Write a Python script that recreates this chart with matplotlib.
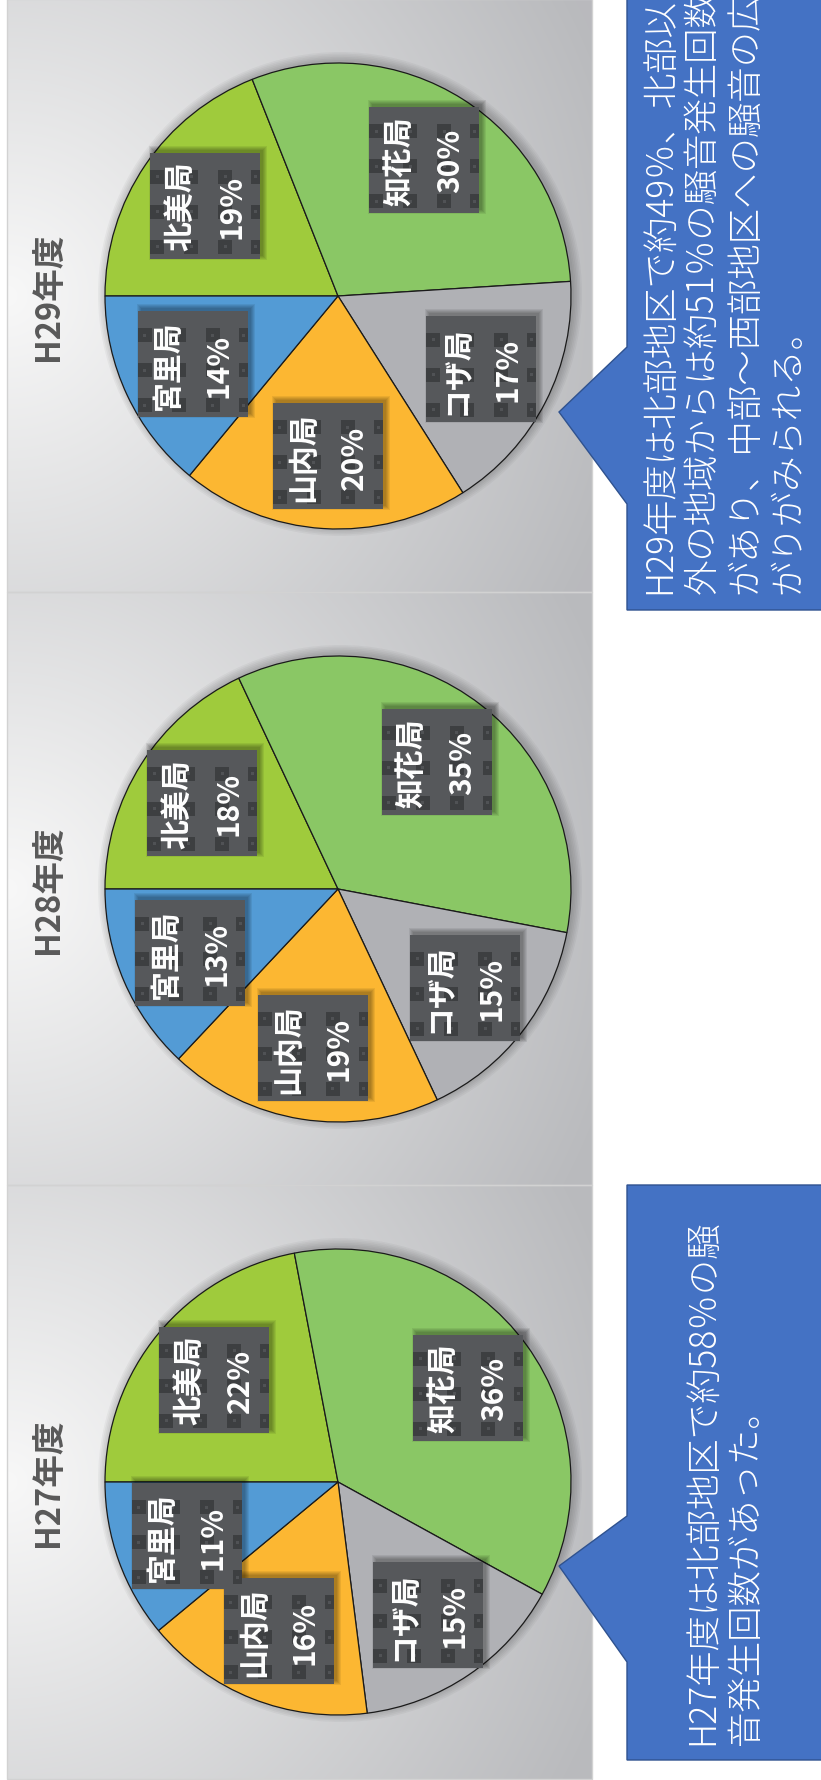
import numpy as np
import matplotlib
matplotlib.use("Agg")
import matplotlib.pyplot as plt
from matplotlib.patches import Rectangle, Polygon, Circle

plt.rcParams['font.family'] = ['Noto Sans CJK JP', 'DejaVu Sans']

# ---- data -------------------------------------------------------------
stations = ['北美局', '知花局', 'コザ局', '山内局', '宮里局']
years = ['H29年度', 'H28年度', 'H27年度']
shares_h29 = [19, 30, 17, 20, 14]
shares_h28 = [18, 35, 15, 19, 13]
shares_h27 = [22, 36, 15, 16, 11]
slice_colors = ['#9FCB3C', '#8AC765', '#B0B1B5', '#FCB732', '#539BD5']

note_h29 = ['H29年度は北部地区で約49％、北部以',
            '外の地域からは約51％の騒音発生回数',
            'があり、中部～西部地区への騒音の広',
            'がりがみられる。']
note_h27 = ['H27年度は北部地区で約58％の騒',
            '音発生回数があった。']

# ---- page layout (pixels, measured from the top of the page) ----------
W, H = 821, 1781
fig = plt.figure(figsize=(W / 100, H / 100), dpi=100)
ax = fig.add_axes([0, 0, 1, 1])


def Y(y):
    """page y (downwards) -> data y (upwards)"""
    return H - y


panels = [(0, 593), (593, 1186), (1186, 1780)]
pie_cy = [297, 890, 1483]
pie_cx, pie_r = 338, 233
panel_x0, panel_x1 = 7, 592


def panel_background(top, bot, cy):
    xs = np.arange(panel_x0, panel_x1) + 0.5
    ys = np.arange(top, bot) + 0.5
    X, Yg = np.meshgrid(xs, ys)
    d = np.clip(np.hypot(X - panel_x0, Yg - cy) / 640.0, 0, 1)
    light = np.array([248, 248, 248]) / 255
    dark = np.array([185, 186, 189]) / 255
    img = light + (dark - light) * d[..., None]
    ax.imshow(img, extent=(panel_x0, panel_x1, Y(bot), Y(top)),
              origin='upper', interpolation='bilinear', zorder=0)
    ax.add_patch(Rectangle((panel_x0, Y(bot)), panel_x1 - panel_x0, bot - top,
                           fill=False, edgecolor='#D2D2D2', lw=1.0, zorder=1))


def pie_shadow(cx, cy):
    for k in range(6):
        ax.add_patch(Circle((cx + 2, Y(cy) + 2), pie_r + 1 + 1.6 * k,
                            facecolor='black', edgecolor='none',
                            alpha=0.035, zorder=1.5))


def data_label(cx, cy, name, pct):
    bw, bh = 110, 106
    left, bottom = cx - bw / 2, cy - bh / 2
    # soft shadow towards the upper right
    for e in range(5):
        ax.add_patch(Rectangle((left + 3 - e, bottom + 3 - e), bw + 2 * e, bh + 2 * e,
                               facecolor='black', edgecolor='none',
                               alpha=0.07, zorder=5))
    ax.add_patch(Rectangle((left, bottom), bw, bh, facecolor='#56585B',
                           edgecolor='none', zorder=6))
    # texture of darker squares
    top_y = bottom + bh
    for ox in (0, 34, 68, 101):
        for oy in (-18, 17, 52, 87):
            sw = min(14, bw - ox)
            sy_top = max(oy, 0)
            sh = min(oy + 14, bh) - sy_top
            if sh <= 0:
                continue
            sx, sy = left + ox, top_y - sy_top - sh
            tone = '#4A4C4F' if oy < 0 else '#3D3F41'
            ax.add_patch(Rectangle((sx, sy), sw, sh, facecolor=tone,
                                   edgecolor='none', zorder=6.5))
            if oy >= 0 and sw >= 8:
                ax.add_patch(Rectangle((sx + sw / 2 - 1.5, sy + sh / 2 - 1.5), 3, 3,
                                       facecolor='#505255', edgecolor='none',
                                       zorder=6.6))
    ax.text(cx - 25, cy, name, rotation=90, ha='center', va='center',
            fontsize=21.5, fontweight='bold', color='white', zorder=7)
    ax.text(cx + 26, cy, pct, rotation=90, ha='center', va='center',
            fontsize=21.5, fontweight='bold', color='white', zorder=7)


all_shares = [shares_h29, shares_h28, shares_h27]

for (top, bot), cy, year, shares in zip(panels, pie_cy, years, all_shares):
    panel_background(top, bot, cy)
    pie_shadow(pie_cx, cy)
    wedges, _ = ax.pie(shares, colors=slice_colors, startangle=180,
                       counterclock=False, center=(pie_cx, Y(cy)), radius=pie_r,
                       wedgeprops=dict(edgecolor='#1A1A1A', linewidth=0.9),
                       frame=True)
    for w in wedges:
        w.set_zorder(3)
    for w, name, val in zip(wedges, stations, shares):
        mid = np.deg2rad((w.theta1 + w.theta2) / 2)
        lx = pie_cx + 0.69 * pie_r * np.cos(mid)
        ly = Y(cy) + 0.69 * pie_r * np.sin(mid)
        data_label(lx, ly, name, f'{val}%')
    ax.text(49, Y(cy), year, rotation=90, ha='center', va='center',
            fontsize=23.5, fontweight='bold', color='#595959', zorder=4)


def callout(top, bot, tip, base_a, base_b, lines, start_y):
    bx0, bx1 = 627, 830
    pts = [(bx0, Y(top)), (bx1, Y(top)), (bx1, Y(bot)), (bx0, Y(bot)),
           (bx0, Y(base_b)), (tip[0], Y(tip[1])), (bx0, Y(base_a))]
    ax.add_patch(Polygon(pts, closed=True, facecolor='#4472C4',
                         edgecolor='#2F528F', lw=1.0, zorder=2))
    pitch = 42.7
    centre = 724
    n = len(lines)
    for i, line in enumerate(lines):
        x = centre + (i - (n - 1) / 2) * pitch
        ax.text(x, Y(start_y), line, rotation=90, rotation_mode='anchor',
                ha='left', va='center', fontsize=25.5, fontweight='light',
                color='white', zorder=3)


callout(-20, 611, (559, 413), 348, 505, note_h29, 594)
callout(1186, 1761, (559, 1567), 1517, 1663, note_h27, 1745)

ax.set_xlim(0, W)
ax.set_ylim(0, H)
ax.set_aspect('auto')
ax.axis('off')
fig.savefig('out.png', dpi=100, facecolor='white')
